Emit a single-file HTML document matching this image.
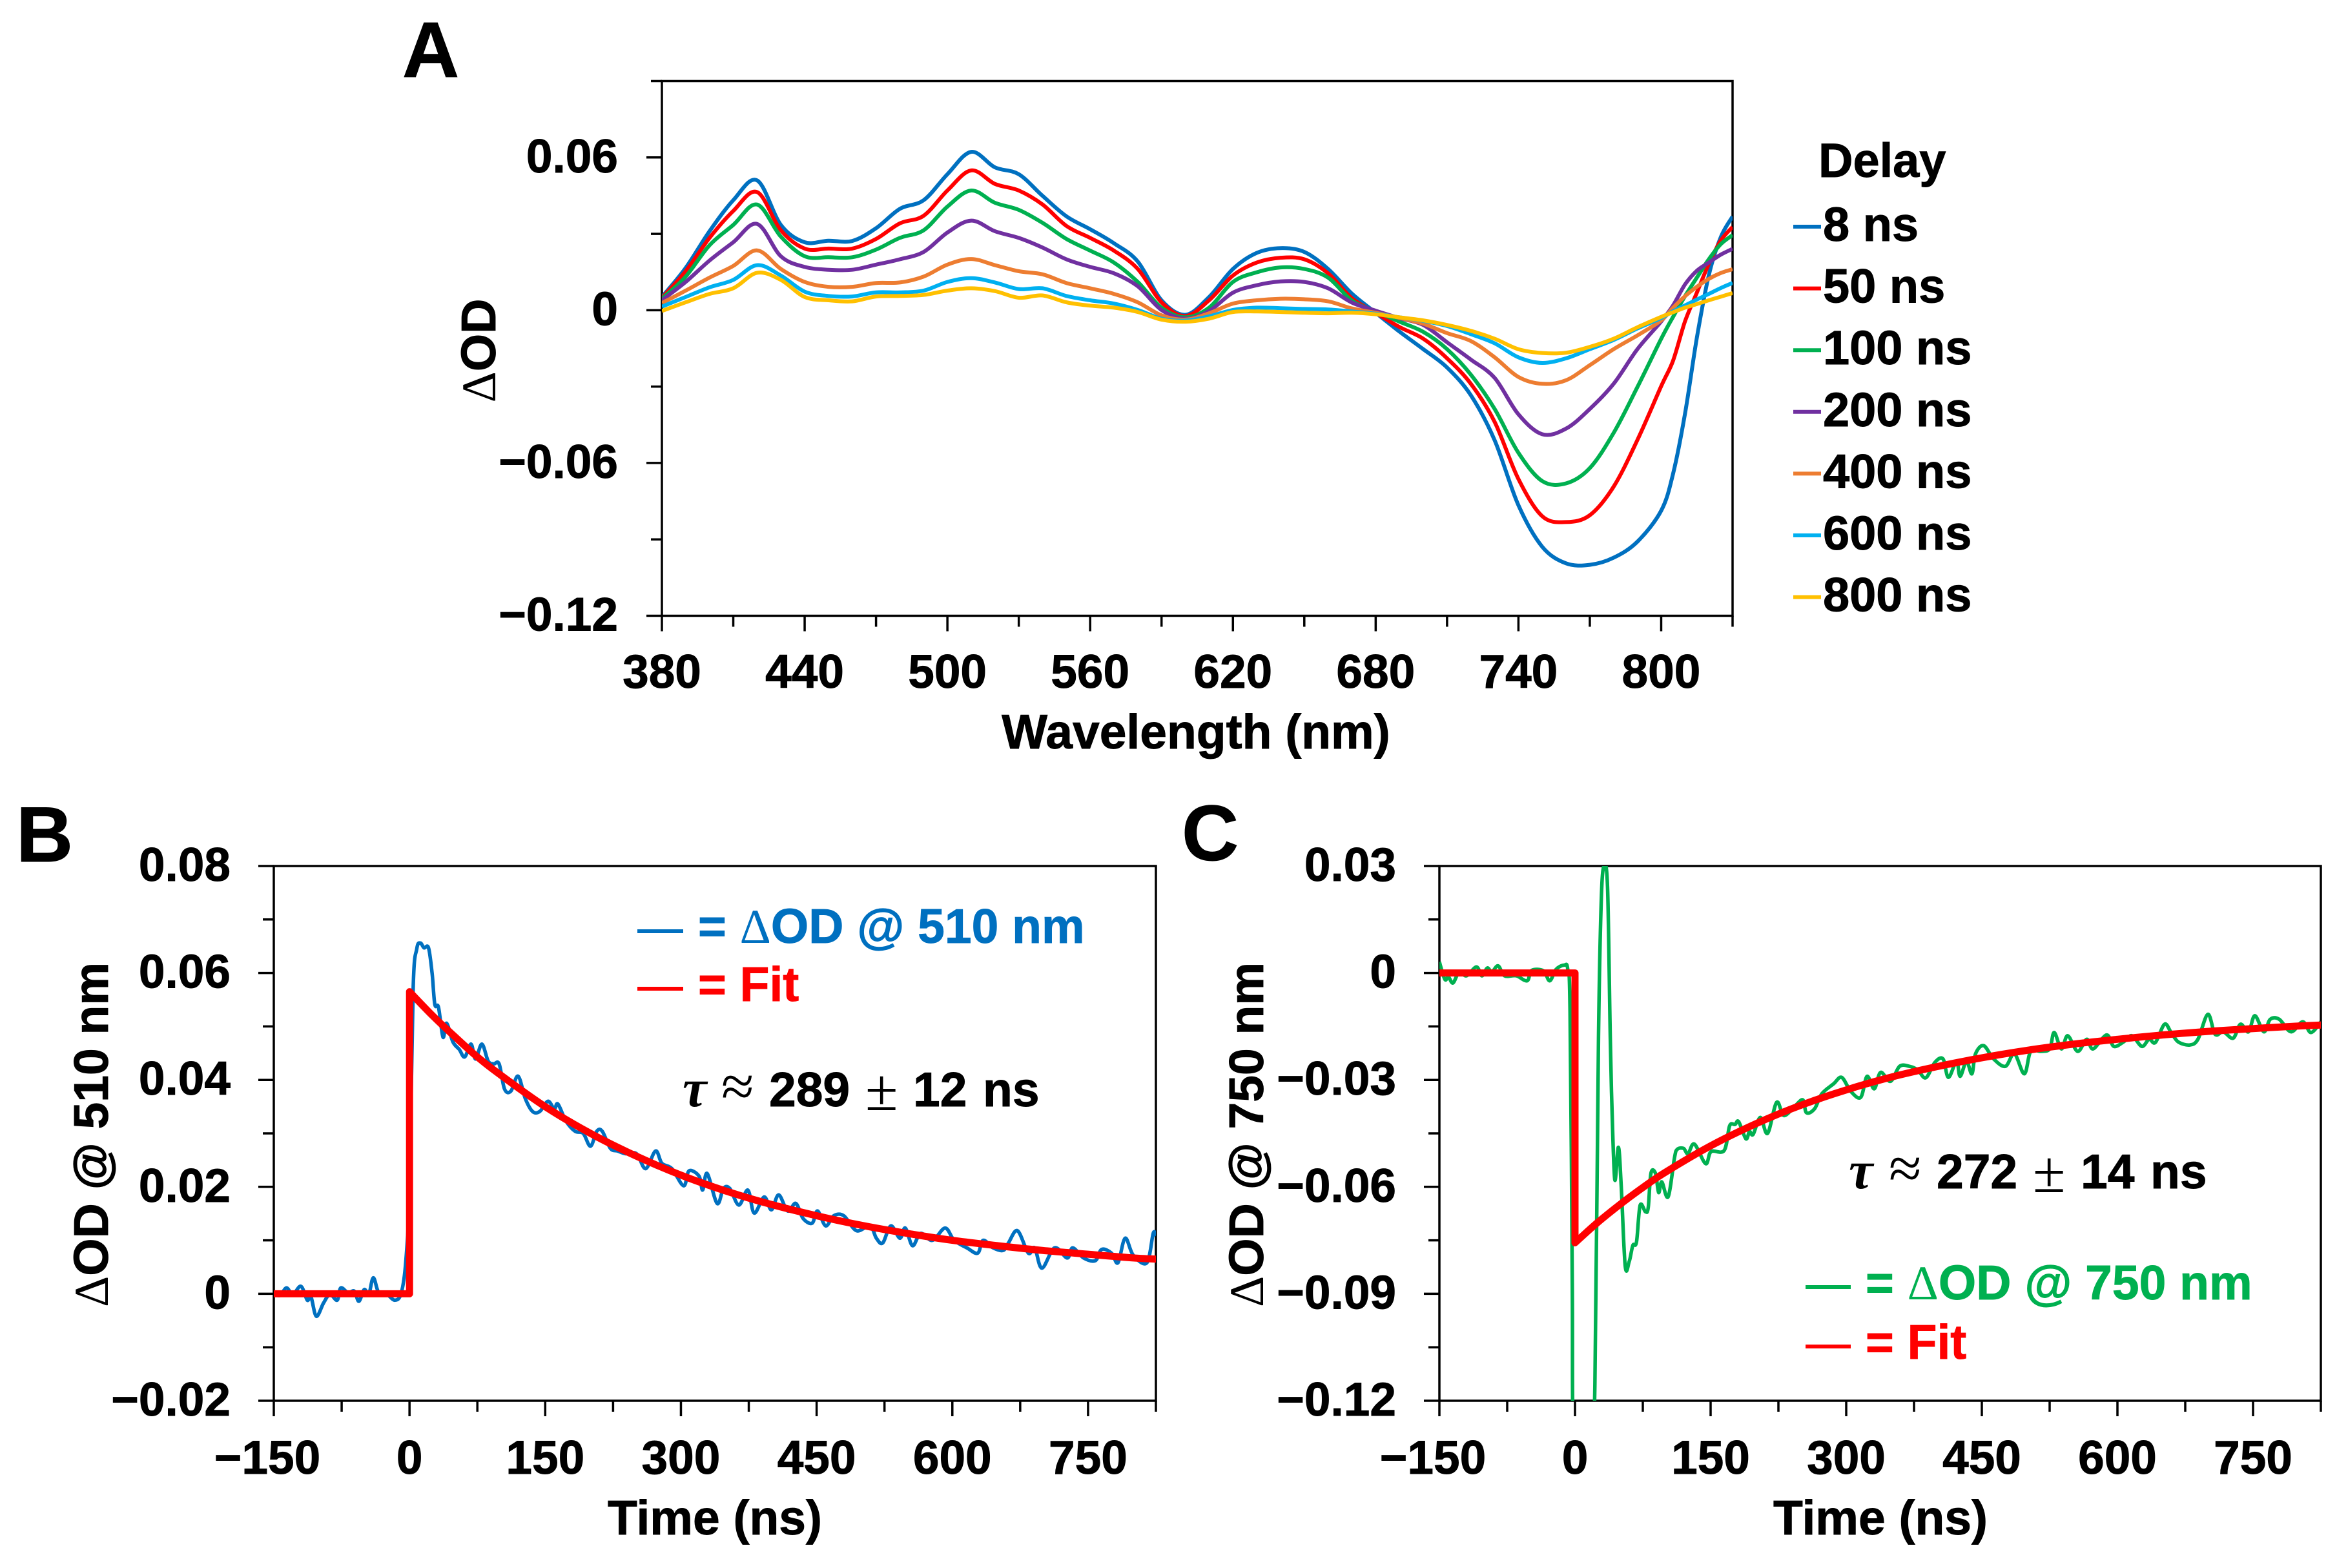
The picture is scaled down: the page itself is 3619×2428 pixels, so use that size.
<!DOCTYPE html>
<html lang="en">
<head>
<meta charset="utf-8">
<title>Transient absorption spectra and kinetics</title>
<style>
html,body{margin:0;padding:0;background:#fff}
svg{display:block}
text{font-family:"Liberation Sans",Arial,sans-serif;font-weight:700;fill:#000;stroke:#000;stroke-width:0.9px}
.thin{font-family:"Liberation Serif",serif;font-weight:400;stroke:none}
.tau{font-family:"Liberation Serif",serif;font-weight:700;font-style:italic;stroke:none}
</style>
</head>
<body>
<svg id="figure" xmlns="http://www.w3.org/2000/svg" width="3619" height="2428" viewBox="0 0 3619 2428">
<rect width="3619" height="2428" fill="#fff"/>
<defs>
<clipPath id="clipA"><rect x="1025" y="126" width="1658" height="828"/></clipPath>
<clipPath id="clipB"><rect x="424" y="1341" width="1366" height="828"/></clipPath>
<clipPath id="clipC"><rect x="2229" y="1341" width="1365" height="828"/></clipPath>
</defs>

<text x="623" y="119" font-size="122">A</text>
<text x="25" y="1334" font-size="122">B</text>
<text x="1830" y="1332" font-size="122">C</text>

<text x="1852" y="1159" font-size="75" text-anchor="middle">Wavelength (nm)</text>
<text transform="translate(767 543) rotate(-90)" font-size="75" text-anchor="middle"><tspan class="thin">Δ</tspan>OD</text>
<text x="1107" y="2376" font-size="75" text-anchor="middle">Time (ns)</text>
<text transform="translate(167 1757) rotate(-90)" font-size="75" text-anchor="middle"><tspan class="thin">Δ</tspan>OD @ 510 nm</text>
<text x="2912" y="2376" font-size="75" text-anchor="middle">Time (ns)</text>
<text transform="translate(1956 1757) rotate(-90)" font-size="75" text-anchor="middle"><tspan class="thin">Δ</tspan>OD @ 750 nm</text>

<text x="2816" y="274" font-size="74">Delay</text>

<line x1="987" x2="1058" y1="1442" y2="1442" stroke="#0070C0" stroke-width="6"/>
<line x1="987" x2="1058" y1="1531" y2="1531" stroke="#FF0000" stroke-width="6"/>
<text x="1081" y="1460" font-size="75" style="fill:#0070C0;stroke:#0070C0">= <tspan class="thin" style="fill:#0070C0">Δ</tspan>OD @ 510 nm</text>
<text x="1081" y="1550" font-size="75" style="fill:#FF0000;stroke:#FF0000">= Fit</text>
<text font-size="75"><tspan class="tau" x="1057" y="1713" font-size="84">τ</tspan><tspan class="thin" x="1117" y="1713" font-size="92">≈</tspan><tspan x="1191" y="1713">289</tspan><tspan class="thin" x="1340" y="1719" font-size="92">±</tspan><tspan x="1414" y="1713">12</tspan><tspan x="1522" y="1713">ns</tspan></text>

<line x1="2796" x2="2866" y1="1993" y2="1993" stroke="#00B050" stroke-width="6"/>
<line x1="2796" x2="2866" y1="2085" y2="2085" stroke="#FF0000" stroke-width="6"/>
<text x="2889" y="2012" font-size="75" style="fill:#00B050;stroke:#00B050">= <tspan class="thin" style="fill:#00B050">Δ</tspan>OD @ 750 nm</text>
<text x="2889" y="2104" font-size="75" style="fill:#FF0000;stroke:#FF0000">= Fit</text>
<text font-size="75"><tspan class="tau" x="2863" y="1840" font-size="84">τ</tspan><tspan class="thin" x="2925" y="1840" font-size="92">≈</tspan><tspan x="2999" y="1840">272</tspan><tspan class="thin" x="3148" y="1846" font-size="92">±</tspan><tspan x="3222" y="1840">14</tspan><tspan x="3330" y="1840">ns</tspan></text>
</svg>

<script>
/* ---------- Panel A data ---------- */
const delayLabels = ['8 ns','50 ns','100 ns','200 ns','400 ns','600 ns','800 ns'];
const delayColors = ['#0070C0','#FF0000','#00B050','#7030A0','#ED7D31','#00B0F0','#FFC000'];
const wavelengths = [380,390,400,410,420,430,440,450,460,470,480,490,500,510,520,530,540,550,560,570,580,590,600,610,620,630,640,650,660,670,680,690,700,710,720,730,740,750,760,770,780,790,800,805,810,815,820,825,830];
const od8ns = [.0052,.0166,.031,.0432,.051,.0335,.0267,.0273,.0272,.0322,.0398,.0432,.0534,.0622,.0561,.0534,.0449,.0369,.0318,.0263,.0191,.0039,-.0018,.0052,.0162,.0225,.0244,.0229,.0162,.0065,-.001,-.0084,-.0153,-.0225,-.0334,-.0511,-.0766,-.0929,-.0994,-.1,-.0972,-.0909,-.0787,-.0642,-.0407,-.0108,.0137,.0286,.0368];
const od50ns = [.0048,.0153,.0284,.039,.0464,.0314,.0242,.0242,.0242,.028,.0341,.0371,.047,.0549,.0496,.047,.0415,.0331,.0284,.0234,.0162,.0031,-.0023,.0039,.0136,.0187,.0206,.02,.0145,.0047,-.001,-.0066,-.0112,-.0189,-.0289,-.0439,-.0663,-.0809,-.0832,-.0805,-.0693,-.051,-.0298,-.0198,-.0044,.0069,.0182,.0273,.0327];
const od100ns = [.0045,.0132,.0255,.0335,.0415,.0289,.0212,.0208,.0208,.0238,.0284,.0314,.0407,.047,.0422,.0394,.0343,.028,.0234,.0187,.0111,.001,-.0028,.001,.0111,.0149,.0168,.0162,.0128,.0038,-.0005,-.0045,-.0085,-.0153,-.0253,-.0388,-.056,-.0671,-.068,-.062,-.0482,-.0302,-.0112,-.0026,.0055,.0128,.02,.0259,.0295];
const od200ns = [.0039,.0111,.0195,.0267,.0339,.0212,.017,.0159,.0159,.0179,.02,.0229,.0305,.0352,.031,.0284,.0246,.02,.017,.0145,.0094,.0001,-.0033,-.0003,.0069,.0098,.0113,.0111,.0086,.003,-.0002,-.0031,-.0058,-.0126,-.0194,-.0266,-.0409,-.0487,-.0465,-.0388,-.0289,-.0153,-.0044,.0019,.0101,.0155,.0187,.0218,.0241];
const od400ns = [.0028,.0077,.0128,.0174,.0235,.0162,.0111,.0092,.0092,.0107,.0109,.0132,.0179,.0201,.0177,.0153,.0141,.0107,.0086,.0064,.0031,-.002,-.0037,-.0012,.0026,.0039,.0045,.0043,.0035,.0007,-.001,-.003,-.0053,-.009,-.0121,-.0185,-.0262,-.0289,-.0275,-.0216,-.0153,-.0099,-.004,.001,.0055,.0092,.0123,.0146,.0161];
const od600ns = [.0014,.0052,.009,.0119,.0177,.0136,.0073,.0056,.0054,.007,.007,.0077,.0111,.0126,.0109,.0083,.0086,.0056,.0039,.0026,.0001,-.0033,-.0041,-.0024,.0001,.001,.0008,.0005,.0003,-.0005,-.0014,-.0028,-.0042,-.0062,-.0094,-.013,-.0185,-.0207,-.0189,-.0153,-.0117,-.0072,-.0031,-.0004,.0019,.0042,.0064,.0087,.0107];
const od800ns = [-.0003,.0031,.0064,.0086,.0147,.0119,.0052,.0039,.0035,.0054,.0056,.006,.0077,.0086,.0075,.0049,.0058,.0031,.0018,.001,-.0007,-.0037,-.0045,-.0033,-.0007,-.0005,-.0007,-.001,-.0012,-.001,-.0016,-.0028,-.004,-.0058,-.0081,-.0112,-.0153,-.0168,-.0167,-.0144,-.0112,-.0067,-.0026,-.0008,.001,.0024,.0039,.0053,.0067];
const xTicksA = [380,410,440,470,500,530,560,590,620,650,680,710,740,770,800,830];
const xTickLabelsA = ['380','','440','','500','','560','','620','','680','','740','','800',''];
const yTicksA = [-.12,-.09,-.06,-.03,0,.03,.06,.09];
const yTickLabelsA = ['−0.12','','−0.06','','0','','0.06',''];

/* ---------- Panel B data ---------- */
const timesB = [-150,-143,-136,-129,-120,-113,-109,-103,-95,-88,-80,-76,-68,-61,-56,-50,-45,-40,-34,-25,-16,-9,-4,0,4,8,12,16,21,25,28,32,37,41,48,55,61,68,73,80,87,93,99,105,112,120,128,136,144,153,160,164,173,183,192,200,207,213,222,230,239,251,261,272,279,290,303,309,320,324,329,340,347,354,364,374,381,392,400,408,418,427,435,445,451,460,469,480,494,509,516,523,532,542,548,556,565,578,592,602,616,628,634,645,656,662,672,684,691,699,713,727,733,745,758,765,776,783,791,800,815,822,825];
const signalB = [0,-.0003,.0011,-.0001,.0014,-.0012,-.0005,-.0042,-.0017,-.0001,-.0012,.0011,.0002,.0005,-.0014,.0008,-.0001,.003,.0002,-.0001,-.0012,.0002,.0062,.0202,.057,.0645,.0656,.0647,.0647,.0599,.0541,.0536,.048,.0506,.0471,.0457,.0443,.0467,.0439,.0467,.0435,.043,.043,.0383,.0379,.0407,.0365,.0341,.0341,.036,.0346,.0355,.0323,.0304,.03,.0276,.0304,.0304,.0272,.0267,.0262,.0262,.0234,.0267,.0244,.0234,.0202,.023,.022,.0194,.0225,.0169,.0197,.0197,.0166,.0194,.0151,.0181,.0157,.0185,.0155,.0169,.0141,.0132,.0155,.0127,.0146,.0146,.0118,.0127,.0104,.0095,.0127,.0104,.0123,.009,.0113,.01,.0123,.01,.0086,.0076,.01,.0086,.0081,.0095,.0118,.0076,.0086,.0048,.0086,.0067,.0086,.0067,.0062,.0083,.0076,.0058,.0104,.0072,.0058,.0113,.0109];
const fitTimesB = [-150,0,0,25,50,75,100,150,200,250,300,350,400,450,500,550,600,650,700,750,800,825];
const fitValuesB = [0,0,.0565,.0521,.0481,.0443,.041,.035,.03,.0258,.0222,.0192,.0167,.0146,.0128,.0113,.01,.009,.0081,.0074,.0067,.0065];
const xTicksTime = [-150,-75,0,75,150,225,300,375,450,525,600,675,750,825];
const xTickLabelsTime = ['−150','','0','','150','','300','','450','','600','','750',''];
const yTicksB = [-.02,-.01,0,.01,.02,.03,.04,.05,.06,.07,.08];
const yTickLabelsB = ['−0.02','','0','','0.02','','0.04','','0.06','','0.08'];

/* ---------- Panel C data ---------- */
const timesC = [-150,-144,-140,-135,-128,-120,-109,-103,-97,-92,-85,-78,-65,-53,-48,-35,-28,-21,-12,-8,-5.5,-3,-2,5,12,18,22,26,29,32,36,39,41,44,48,51,55.5,60,64,68,72,78,81,84,89,92.5,96,103,110,113,120,125,132,144.5,150.5,165,171,177,181,189,193,197,205,213,223,231,243,252,256,265,273,286,295,305,316,323,331,338,349,359,370,379,388,398,407,413,422,426,433,439,443,452,463,476,486,497,504,515,525,530,538,545,556,566,573,588,596,607,616,627,635,642,652,659,667,680,689,700,708,717,728,736,745,752,762,769,779,792,805,814,825];
const signalC = [.0031,-.0018,-.0011,-.0028,.0003,-.0008,.0017,-.0008,.0014,.0003,.002,-.0008,-.0008,-.0022,.0007,.0006,-.0022,.001,.0022,.001,-.0109,-.0876,-.129,-.15,-.16,-.14,-.1155,-.0179,.02,.03,.024,-.0179,-.0388,-.058,-.0489,-.0592,-.0821,-.0809,-.0764,-.0755,-.0652,-.067,-.0658,-.0562,-.0562,-.0616,-.0586,-.0628,-.0519,-.0495,-.0492,-.0507,-.048,-.0535,-.0501,-.0498,-.0429,-.0425,-.0417,-.0465,-.0445,-.0453,-.0405,-.045,-.0363,-.04,-.0374,-.0356,-.0392,-.0381,-.0339,-.0311,-.0293,-.0332,-.0349,-.029,-.0325,-.0279,-.0304,-.0262,-.0262,-.0272,-.0294,-.0251,-.0241,-.0293,-.0248,-.029,-.0248,-.0283,-.0227,-.0204,-.0241,-.0262,-.0227,-.0283,-.022,-.022,-.0213,-.0167,-.0213,-.0176,-.022,-.0186,-.0213,-.0174,-.0206,-.0193,-.0176,-.0206,-.0186,-.0195,-.0144,-.0165,-.0193,-.0202,-.0186,-.0116,-.0172,-.0165,-.0183,-.0144,-.0165,-.012,-.0165,-.013,-.013,-.0165,-.0137,-.0167,-.0137];
const fitTimesC = [-150,0,0,25,50,75,100,150,200,250,300,350,400,450,500,550,600,650,700,750,800,825];
const fitValuesC = [0,0,-.0757,-.07,-.0649,-.0602,-.0559,-.0485,-.0423,-.0371,-.0328,-.0292,-.0263,-.0238,-.0217,-.02,-.0186,-.0174,-.0164,-.0156,-.0149,-.0146];
const yTicksC = [-.12,-.105,-.09,-.075,-.06,-.045,-.03,-.015,0,.015,.03];
const yTickLabelsC = ['−0.12','','−0.09','','−0.06','','−0.03','','0','','0.03'];

/* ---------- Scales and helpers ---------- */
const NS = 'http://www.w3.org/2000/svg';
const svg = document.getElementById('figure');
const linear = (d0, d1, r0, r1) => v => r0 + (v - d0) * (r1 - r0) / (d1 - d0);
const xA = linear(380, 830, 1025, 2683);
const yA = linear(.09, -.12, 125.5, 953.5);
const xB = linear(-150, 825, 424, 1790);
const yB = linear(.08, -.02, 1341, 2169);
const xC = linear(-150, 825, 2229, 3594);
const yC = linear(.03, -.12, 1341, 2169);

function el(tag, attrs, parent) {
  const n = document.createElementNS(NS, tag);
  for (const k in attrs) n.setAttribute(k, attrs[k]);
  (parent || svg).appendChild(n);
  return n;
}
function smoothPath(xs, ys, fx, fy) {
  const p = xs.map((x, i) => [fx(x), fy(ys[i])]);
  let d = 'M' + p[0][0].toFixed(1) + ' ' + p[0][1].toFixed(1);
  for (let i = 0; i < p.length - 1; i++) {
    const a = p[Math.max(i - 1, 0)], b = p[i], c = p[i + 1], e = p[Math.min(i + 2, p.length - 1)];
    d += 'C' + (b[0] + (c[0] - a[0]) / 6).toFixed(1) + ' ' + (b[1] + (c[1] - a[1]) / 6).toFixed(1) + ' '
       + (c[0] - (e[0] - b[0]) / 6).toFixed(1) + ' ' + (c[1] - (e[1] - b[1]) / 6).toFixed(1) + ' '
       + c[0].toFixed(1) + ' ' + c[1].toFixed(1);
  }
  return d;
}
function straightPath(xs, ys, fx, fy) {
  return xs.map((x, i) => (i ? 'L' : 'M') + fx(x).toFixed(1) + ' ' + fy(ys[i]).toFixed(1)).join('');
}
/* Fit: straight baseline and step, then a smooth decay from the third point on. */
function fitPath(xs, ys, fx, fy) {
  return straightPath(xs.slice(0, 3), ys.slice(0, 3), fx, fy)
       + smoothPath(xs.slice(2), ys.slice(2), fx, fy).replace(/^M[^C]*/, '');
}

function drawAxes(prefix, fx, fy, xTicks, xLabels, yTicks, yLabels, labelRight, xLabelY) {
  const left = fx(xTicks[0]), right = fx(xTicks[xTicks.length - 1]);
  const top = fy(yTicks[yTicks.length - 1]), bottom = fy(yTicks[0]);
  const frame = el('rect', {x: left, y: top, width: right - left, height: bottom - top, fill: 'none', stroke: '#000', 'stroke-width': 3.5});
  
  
  xTicks.forEach((t, i) => {
    const major = i % 2 === 0;
    const x = fx(t);
    const tick = el('line', {x1: x, x2: x, y1: bottom, y2: bottom + (major ? 24 : 17), stroke: '#000', 'stroke-width': 3.5});
    
    
    if (xLabels[i]) {
      const neg = xLabels[i][0] === '−';
      const label = el('text', {x: x - (neg ? 10 : 0), y: xLabelY, 'font-size': 73, 'text-anchor': 'middle'});
      
      
      label.textContent = xLabels[i];
    }
  });
  yTicks.forEach((v, i) => {
    const major = i % 2 === 0;
    const y = fy(v);
    const tick = el('line', {x1: left, x2: left - (major ? 24 : 17), y1: y, y2: y, stroke: '#000', 'stroke-width': 3.5});
    
    
    if (yLabels[i]) {
      const label = el('text', {x: labelRight, y: y + 23, 'font-size': 73, 'text-anchor': 'end'});
      
      
      label.textContent = yLabels[i];
    }
  });
}

/* ---------- Panel A ---------- */
const spectra = [od8ns, od50ns, od100ns, od200ns, od400ns, od600ns, od800ns];
drawAxes('panel-a', xA, yA, xTicksA, xTickLabelsA, yTicksA, yTickLabelsA, 957, 1065);
spectra.forEach((series, i) => {
  const curve = el('path', {d: smoothPath(wavelengths, series, xA, yA), fill: 'none', stroke: delayColors[i], 'stroke-width': 6, 'stroke-linejoin': 'round', 'clip-path': 'url(#clipA)'});
  
  
  const rowY = 351 + i * 95.6;
  const swatch = el('line', {x1: 2777, x2: 2820, y1: rowY, y2: rowY, stroke: delayColors[i], 'stroke-width': 6});
  
  
  const label = el('text', {x: 2823, y: rowY + 22, 'font-size': 74});
  
  
  label.textContent = delayLabels[i];
});

/* ---------- Panel B ---------- */
drawAxes('panel-b', xB, yB, xTicksTime, xTickLabelsTime, yTicksB, yTickLabelsB, 357, 2282);
const traceB = el('path', {d: smoothPath(timesB, signalB, xB, yB), fill: 'none', stroke: '#0070C0', 'stroke-width': 5.5, 'stroke-linejoin': 'round', 'clip-path': 'url(#clipB)'});


const fitB = el('path', {d: fitPath(fitTimesB, fitValuesB, xB, yB), fill: 'none', stroke: '#FF0000', 'stroke-width': 11, 'stroke-linejoin': 'round', 'stroke-linecap': 'round', 'clip-path': 'url(#clipB)'});



/* ---------- Panel C ---------- */
drawAxes('panel-c', xC, yC, xTicksTime, xTickLabelsTime, yTicksC, yTickLabelsC, 2162, 2282);
const traceC = el('path', {d: smoothPath(timesC, signalC, xC, yC), fill: 'none', stroke: '#00B050', 'stroke-width': 5.5, 'stroke-linejoin': 'round', 'clip-path': 'url(#clipC)'});


const fitC = el('path', {d: fitPath(fitTimesC, fitValuesC, xC, yC), fill: 'none', stroke: '#FF0000', 'stroke-width': 11, 'stroke-linejoin': 'round', 'stroke-linecap': 'round', 'clip-path': 'url(#clipC)'});


</script>
</body>
</html>
